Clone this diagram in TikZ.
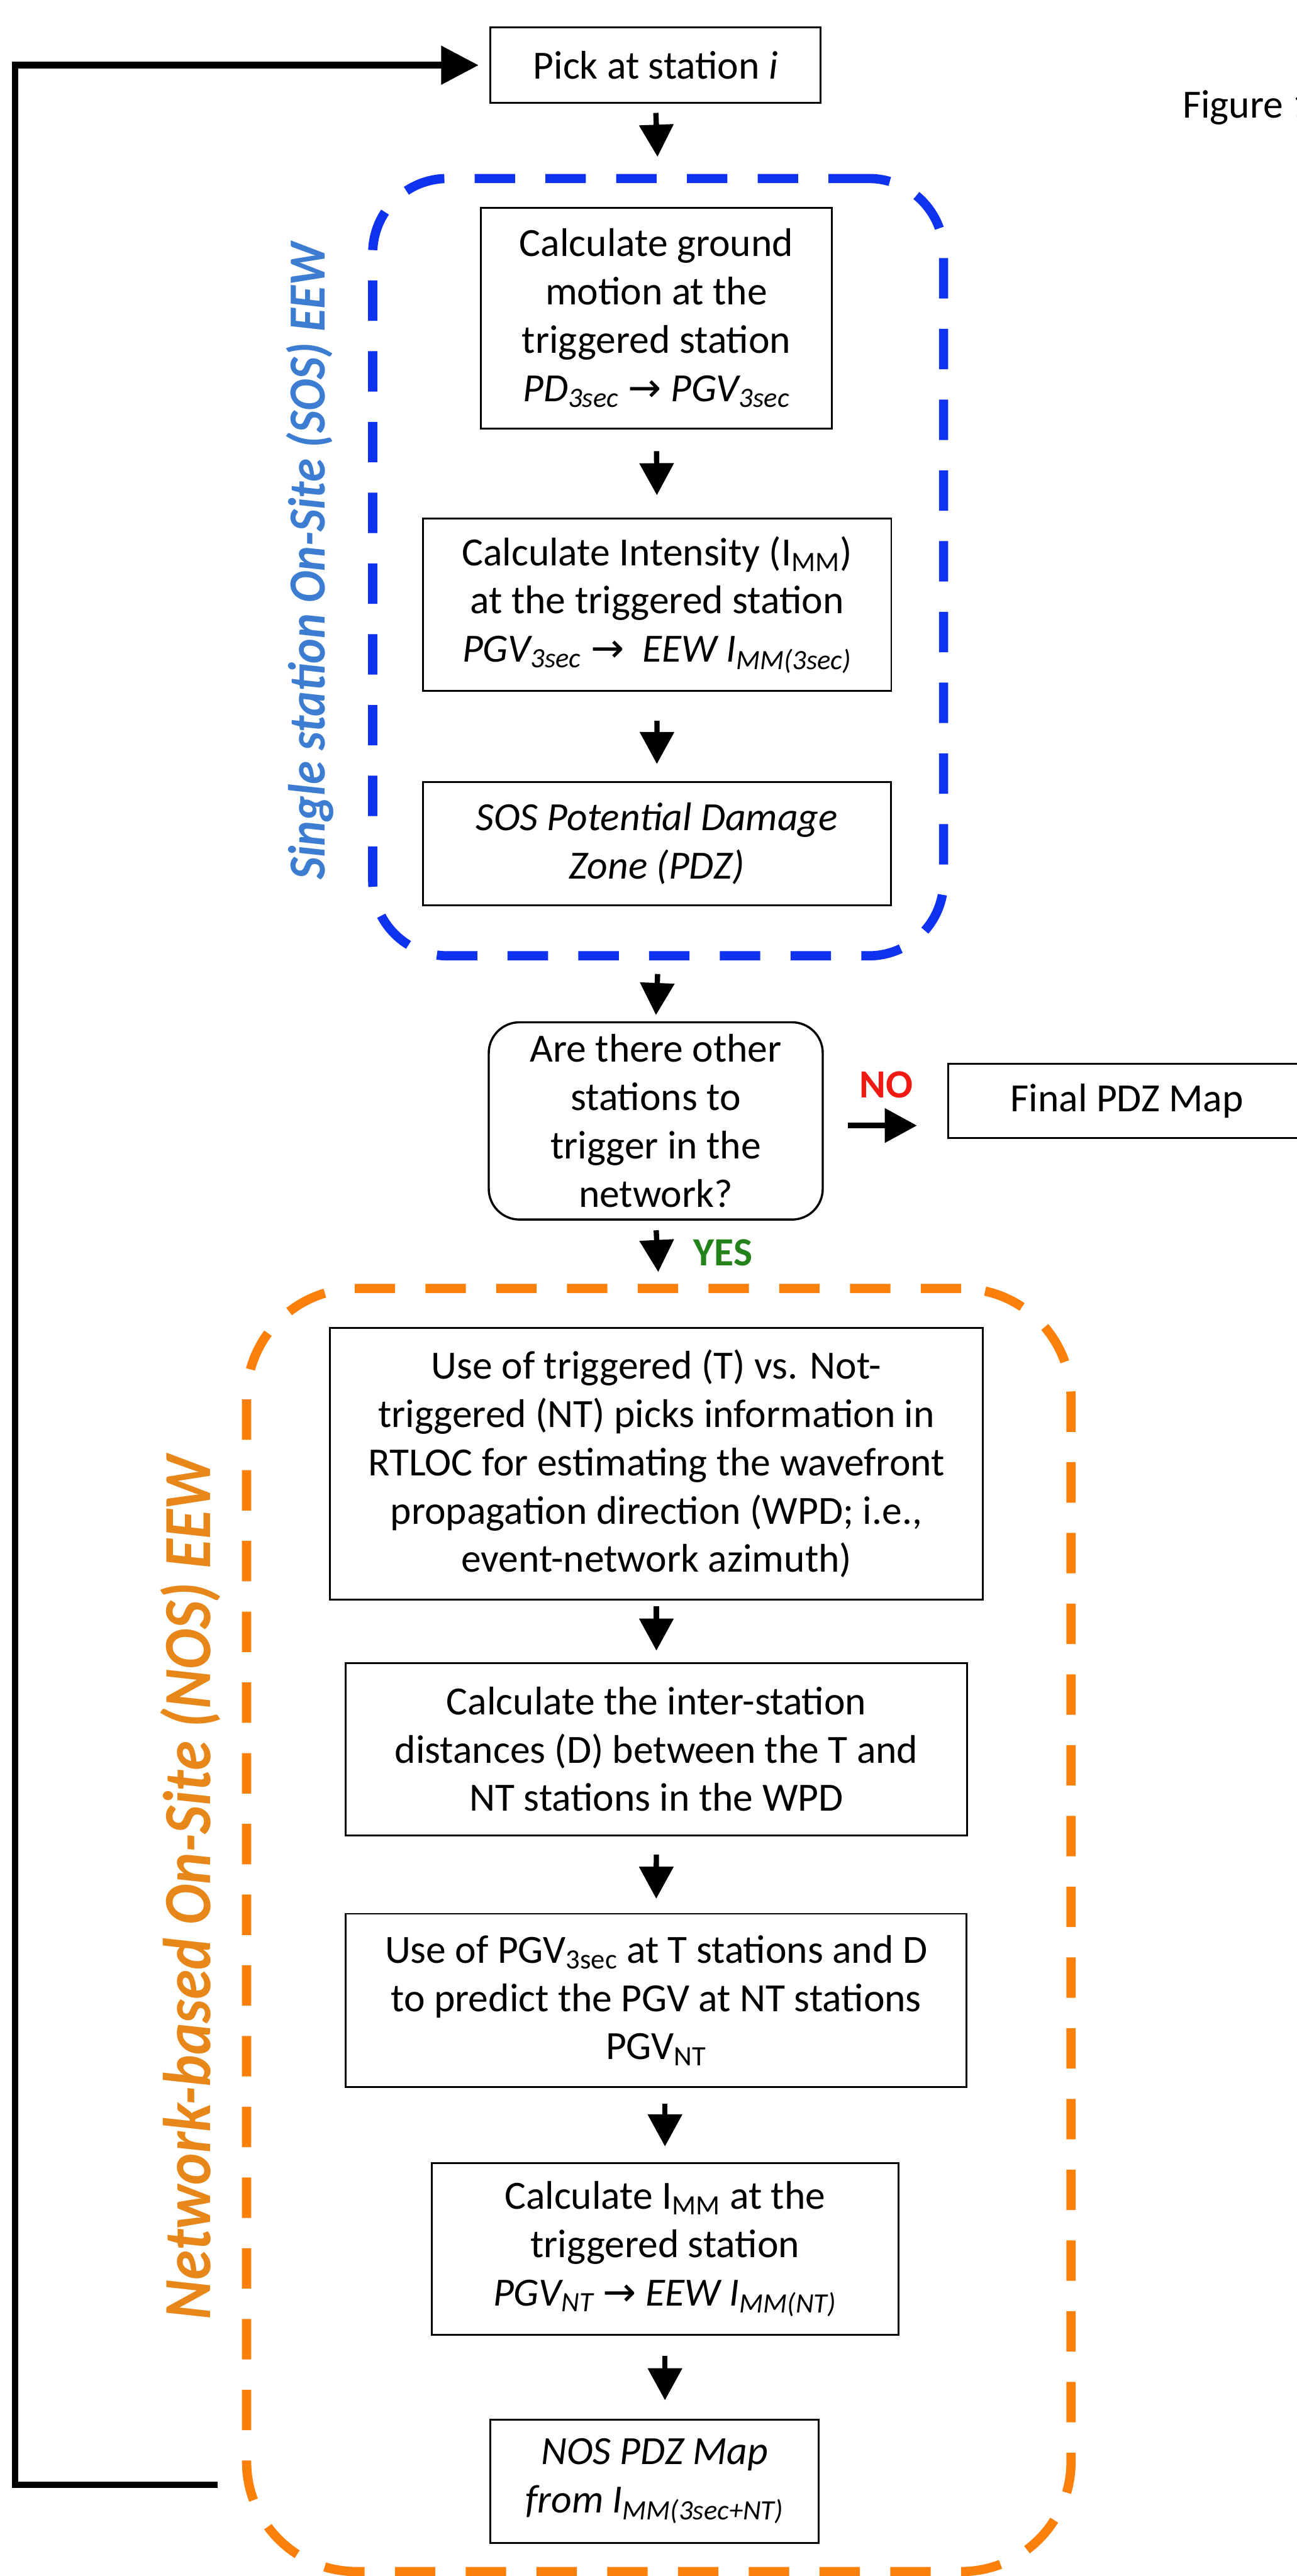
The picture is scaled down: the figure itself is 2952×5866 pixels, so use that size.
\documentclass[tikz,border=0pt]{standalone}
\usepackage{fontspec}
\usepackage{graphicx}
\setmainfont{Carlito}
\newfontfamily\symf{DejaVu Sans}
\usetikzlibrary{arrows.meta,calc}
\definecolor{sosblue}{RGB}{15,50,240}
\definecolor{nosorange}{RGB}{250,128,10}
\definecolor{lblblue}{RGB}{60,125,210}
\definecolor{lblorange}{RGB}{232,135,25}
\definecolor{nored}{RGB}{240,25,20}
\definecolor{yesgreen}{RGB}{35,130,25}
\newcommand\rarr{{\upshape\symf →}}
\newcommand\lowt[1]{\textsubscript{#1}}
\begin{document}
\begin{tikzpicture}[x=0.01cm,y=-0.01cm,
  box/.style={draw, line width=1.2pt, inner sep=0pt, align=center,
    font=\fontsize{25.9pt}{31.3pt}\selectfont},
  cont/.style={draw, line width=0.21cm, dash pattern=on 0.92cm off 0.69cm, inner sep=0pt},
  arr/.style={line width=0.12cm, -{Triangle[length=0.73cm,width=0.76cm]}},
  fbline/.style={line width=0.15cm, line join=miter},
  lbl/.style={inner sep=0pt, font=\fontsize{25.9pt}{31.3pt}\selectfont\bfseries}]
\useasboundingbox (0,0) rectangle (2952,5866);
\fill[white] (0,0) rectangle (2952,5866);

% containers
\node[cont, draw=sosblue, rounded corners=1.7cm, minimum width=12.99cm, minimum height=17.69cm] (sos) at (1498.5,1291.5) {};
\node[cont, draw=nosorange, rounded corners=2.5cm, minimum width=18.76cm, minimum height=29.20cm] (nos) at (1500,4395) {};

% container labels
\node[rotate=90, inner sep=0pt, font=\fontsize{30.7pt}{36pt}\selectfont\bfseries\itshape, text=lblblue] (soslbl) at (705,1278) {\scalebox{1}[1.1]{Single station On-Site (SOS) EEW}};
\node[rotate=90, inner sep=0pt, font=\fontsize{39pt}{46pt}\selectfont\bfseries\itshape, text=lblorange] (noslbl) at (433,4298) {\scalebox{1}[1.12]{Network-based On-Site (NOS) EEW}};

% boxes
\node[box, minimum width=7.51cm, minimum height=1.71cm] (pick) at (1492.5,148.5) {Pick at station \textit{i}};
\node[box, minimum width=7.99cm, minimum height=5.03cm] (g1) at (1494.5,724.5)
  {Calculate ground\\motion at the\\triggered station\\\textit{PD\lowt{3sec} \rarr\ PGV\lowt{3sec}}};
\node[box, minimum width=10.66cm, minimum height=3.92cm] (g2) at (1496,1377)
  {Calculate Intensity (I\lowt{MM})\\at the triggered station\\\textit{PGV\lowt{3sec} \rarr~\ EEW I\lowt{MM(3sec)}}};
\node[box, minimum width=10.65cm, minimum height=2.80cm] (g3) at (1495.5,1921)
  {\textit{SOS Potential Damage}\\\textit{Zone (PDZ)}};
\node[box, line width=1.4pt, rounded corners=0.7cm, minimum width=7.60cm, minimum height=4.49cm] (dec) at (1493,2552.5)
  {Are there other\\stations to\\trigger in the\\network?};
\node[box, minimum width=8.14cm, minimum height=1.70cm] (final) at (2566,2507) {Final PDZ Map};

\node[box, minimum width=14.85cm, minimum height=6.18cm] (n1) at (1494.5,3333)
  {Use of triggered (T) vs. Not-\\triggered (NT) picks information in\\RTLOC for estimating the wavefront\\propagation direction (WPD; i.e.,\\event-network azimuth)};
\node[box, minimum width=14.13cm, minimum height=3.92cm] (n2) at (1494.5,3983)
  {Calculate the inter-station\\distances (D) between the T and\\NT stations in the WPD};
\node[box, minimum width=14.12cm, minimum height=3.94cm] (n3) at (1494,4555)
  {Use of PGV\lowt{3sec} at T stations and D\\to predict the PGV at NT stations\\PGV\lowt{NT}};
\node[box, minimum width=10.62cm, minimum height=3.91cm] (n4) at (1514,5121.5)
  {Calculate I\lowt{MM} at the\\triggered station\\\textit{PGV\lowt{NT} \rarr\ EEW I\lowt{MM(NT)}}};
\node[box, minimum width=7.47cm, minimum height=2.80cm] (n5) at (1490.5,5650)
  {\textit{NOS PDZ Map}\\\textit{from I\lowt{MM(3sec+NT)}}};

% labels
\node[lbl, text=nored] (nolbl) at (2018,2470) {NO};
\node[lbl, text=yesgreen] (yeslbl) at (1646,2852) {YES};
\node[anchor=base west, inner sep=0pt, font=\fontsize{25.9pt}{31.3pt}\selectfont] (fig) at (2692,268) {Figure 1};

% arrows
\draw[arr, shorten <=0.21cm, shorten >=0.39cm] (pick.south) -- (sos.north);
\draw[arr, shorten <=0.49cm, shorten >=0.51cm] (g1.south) -- (g2.north);
\draw[arr, shorten <=0.66cm, shorten >=0.39cm] (g2.south) -- (g3.north);
\draw[arr, shorten <=0.31cm, shorten >=0.14cm] (sos.south) -- (dec.north);
\draw[arr, shorten <=0.22cm, shorten >=0.27cm] (dec.south) -- (nos.north);
\draw[arr, shorten <=0.14cm, shorten >=0.26cm] (n1.south) -- (n2.north);
\draw[arr, shorten <=0.42cm, shorten >=0.32cm] (n2.south) -- (n3.north);
\draw[arr, shorten <=0.36cm, shorten >=0.36cm] (n4.north |- n3.south) -- (n4.north);
\draw[arr, shorten <=0.45cm, shorten >=0.42cm] (n4.south) -- (n4.south |- n5.north);
\draw[arr] ($(dec.east)+(55,10.5)$) -- ($(final.west)+(-69,56)$);

% feedback loop
\coordinate (fbs) at (496,5658);
\coordinate (fbc1) at (34,5658);
\coordinate (fbc2) at (34,148.5);
\draw[fbline, -{Triangle[length=0.85cm,width=0.85cm]}, shorten >=0.25cm] (fbs) -- (fbc1) -- (fbc2) -- (pick.west);
\end{tikzpicture}
\end{document}
